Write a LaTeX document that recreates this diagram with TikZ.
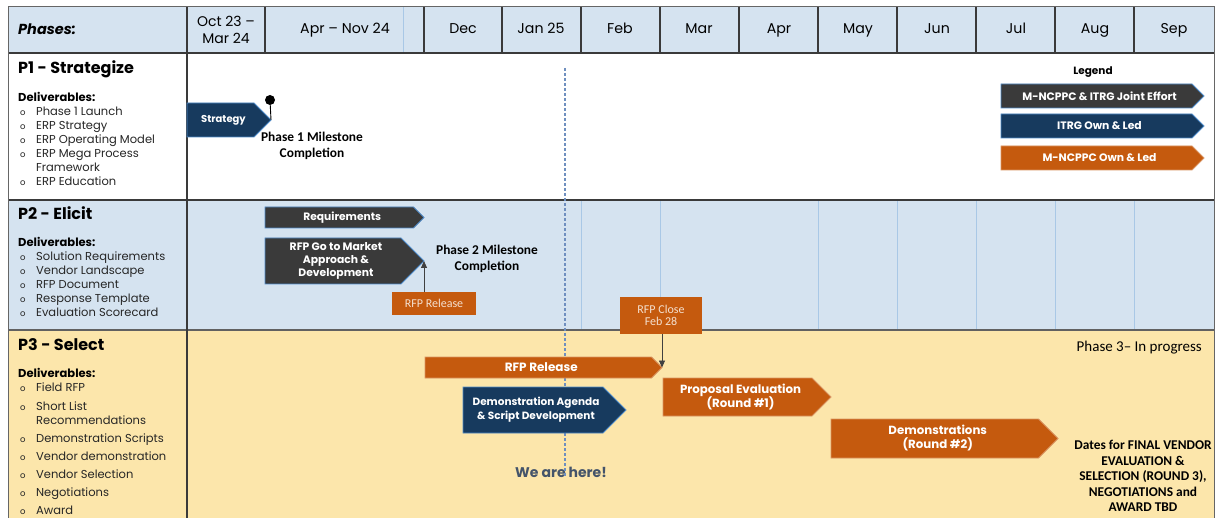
\documentclass[tikz,border=0pt]{standalone}
\usepackage{fontspec}
\setmainfont{Poppins}
\newfontfamily\calfont{Carlito}
\usetikzlibrary{arrows.meta}

\definecolor{navy}{HTML}{173A5E}
\definecolor{dgray}{HTML}{3A3A3A}
\definecolor{orng}{HTML}{C55A0E}
\definecolor{lblue}{HTML}{D5E3F0}
\definecolor{pyel}{HTML}{FCE6AB}
\definecolor{gridc}{HTML}{3A3A3A}
\definecolor{faintc}{HTML}{A9C8E6}
\definecolor{slate}{HTML}{44546A}
\definecolor{dashc}{HTML}{6F8FBF}
\definecolor{barblue}{HTML}{4F8BC9}
\definecolor{txtc}{HTML}{262626}
\definecolor{boxtxt}{HTML}{F4E0D0}

\newcommand{\ganttbar}[8]{%
  \pgfmathsetmacro\gbMid{(#3+#5)/2}%
  \pgfmathsetmacro\gbHalf{(#5-#3)/2}%
  \pgfmathsetmacro\gbBody{#4-\gbHalf}%
  \pgfmathsetmacro\gbCx{(#2+\gbBody)/2+3}%
  \draw[#6] (#2,#3) -- (\gbBody,#3) -- (#4,\gbMid) -- (\gbBody,#5) -- (#2,#5) -- cycle;
  \node[bartext,#7] (#1) at (\gbCx,\gbMid) {#8};
  \coordinate (#1-tip) at (#4,\gbMid);
}
\newcommand{\bul}{{\fontsize{8.5}{14}\selectfont o}}

\begin{document}
\begin{tikzpicture}[x=1pt,y=-1pt,
  bartext/.style={text=white, align=center, inner sep=0pt},
  navybar/.style={fill=navy, draw=barblue, line width=0.8pt},
  graybar/.style={fill=dgray, draw=barblue, line width=0.8pt},
  orangebar/.style={fill=orng, draw=orng!65!white, line width=0.8pt},
  gridline/.style={draw=gridc, line width=1.1pt},
  faintline/.style={draw=faintc, line width=0.6pt},
  hdr/.style={font=\fontsize{14.2}{17}\selectfont, align=center, inner sep=0pt, text=black},
  ptitle/.style={font=\fontsize{16}{18}\selectfont\bfseries, anchor=base west, inner sep=0pt, text=black},
  delhead/.style={font=\fontsize{11.5}{13}\selectfont\bfseries, anchor=base west, inner sep=0pt, text=black},
  dellist/.style={font=\fontsize{11.5}{14}\selectfont, anchor=base west, inner sep=0pt, text=txtc},
  milestone/.style={font=\calfont\fontsize{13.4}{16}\selectfont\bfseries, align=center, inner sep=0pt, text=black},
  smallbox/.style={fill=orng, text=boxtxt, font=\calfont\fontsize{12}{12.5}\selectfont, align=center, inner sep=0pt},
  connector/.style={draw=black!75, line width=0.8pt, -{Triangle[length=7pt,width=6pt]}},
]
\useasboundingbox (0,0) rectangle (1225,518);
\fill[white] (0,0) rectangle (1225,518);

% row backgrounds
\fill[lblue] (8,7) rectangle (1214,53);
\fill[lblue] (8,200) rectangle (1214,330);
\fill[pyel] (8,330) rectangle (1214,518);

% faint lines
\foreach \x in {581,660,818,897,976,1055,1134} \draw[faintline] (\x,200) -- (\x,330);
\draw[faintline] (403,7) -- (403,53);

% grid
\foreach \x in {265,424,502,581,660,739,818,897,976,1055,1134} \draw[gridline] (\x,7) -- (\x,53);
\draw[gridline] (8,53) -- (1214,53);
\draw[gridline] (8,200) -- (1214,200);
\draw[gridline, draw=gridc!80] (8,330) -- (1214,330);
\draw[gridline] (187,7) -- (187,518);
\draw[draw=black!60, line width=1pt] (8,518) -- (8,7) -- (1214,7) -- (1214,518);

% header
\node[anchor=base west, inner sep=0pt, font=\fontsize{14.5}{17}\selectfont\bfseries\itshape] (phases) at (18,35) {Phases:};
\node[hdr, font=\fontsize{14}{17}\selectfont] (hOct) at (226,29.5) {Oct 23 –\\Mar 24};
\node[hdr, anchor=base] (hAprNov) at (345,34) {Apr – Nov 24};
\node[hdr, anchor=base] (hDec) at (463,34) {Dec};
\node[hdr, anchor=base] (hJan) at (541,34) {Jan 25};
\node[hdr, anchor=base] (hFeb) at (620,34) {Feb};
\node[hdr, anchor=base] (hMar) at (699,34) {Mar};
\node[hdr, anchor=base] (hApr) at (779,34) {Apr};
\node[hdr, anchor=base] (hMay) at (858,34) {May};
\node[hdr, anchor=base] (hJun) at (937,34) {Jun};
\node[hdr, anchor=base] (hJul) at (1016,34) {Jul};
\node[hdr, anchor=base] (hAug) at (1095,34) {Aug};
\node[hdr, anchor=base] (hSep) at (1174,34) {Sep};

% left column: P1
\node[ptitle] (p1t) at (18,74) {P1 - Strategize};
\node[delhead] (p1d) at (18,102) {Deliverables:};
\node[dellist] (p1l) at (20,116) {\begin{tabular}[t]{@{}l@{\hspace{10.5pt}}l@{}}
\bul & Phase 1 Launch\\
\bul & ERP Strategy\\
\bul & ERP Operating Model\\
\bul & ERP Mega Process\\
 & Framework\\
\bul & ERP Education
\end{tabular}};

% P2
\node[ptitle] (p2t) at (18,220) {P2 - Elicit};
\node[delhead] (p2d) at (18,247) {Deliverables:};
\node[dellist] (p2l) at (20,261) {\begin{tabular}[t]{@{}l@{\hspace{10.5pt}}l@{}}
\bul & Solution Requirements\\
\bul & Vendor Landscape\\
\bul & RFP Document\\
\bul & Response Template\\
\bul & Evaluation Scorecard
\end{tabular}};

% P3
\node[ptitle] (p3t) at (18,350) {P3 - Select};
\node[delhead] (p3d) at (18,377) {Deliverables:};
\node[dellist] (p3l) at (20,391) {\begin{tabular}[t]{@{}l@{\hspace{10.5pt}}l@{}}
\bul & Field RFP\\[5pt]
\bul & Short List\\
 & Recommendations\\[4pt]
\bul & Demonstration Scripts\\[4pt]
\bul & Vendor demonstration\\[4pt]
\bul & Vendor Selection\\[4pt]
\bul & Negotiations\\[4pt]
\bul & Award
\end{tabular}};

% "we are here" dashed line
\node[font=\fontsize{14}{16}\selectfont\bfseries, text=slate, inner sep=0pt] (here) at (561,472) {We are here!};
\coordinate (heretop) at (565,68);
\draw[dashc, line width=1.2pt, dash pattern=on 3pt off 2pt] (heretop) -- ([yshift=-9pt]heretop |- here.north);

% P1 bars
\ganttbar{strat}{187}{103}{271}{137}{navybar}{font=\fontsize{10}{12}\selectfont\bfseries}{Strategy}
\node[circle, fill=black, inner sep=0pt, minimum size=10pt] (pin) at (270,100) {};
\draw[black, line width=0.9pt] (pin) -- (strat-tip);
\node[milestone] (ms1) at (312,146) {Phase 1 Milestone\\Completion};

% legend
\node[font=\fontsize{10.5}{12}\selectfont\bfseries, inner sep=0pt] (legend) at (1093,72) {Legend};
\ganttbar{lg1}{1001}{84}{1204}{108}{graybar}{font=\fontsize{10.8}{12}\selectfont\bfseries}{M-NCPPC \& ITRG Joint Effort}
\ganttbar{lg2}{1001}{114}{1204}{138}{navybar}{font=\fontsize{10.8}{12}\selectfont\bfseries}{ITRG Own \& Led}
\ganttbar{lg3}{1001}{146}{1204}{170}{orangebar}{font=\fontsize{10.8}{12}\selectfont\bfseries}{M-NCPPC Own \& Led}

% P2 bars
\ganttbar{req}{265}{207}{424}{228}{graybar}{font=\fontsize{10.7}{12}\selectfont\bfseries}{Requirements}
\ganttbar{gtm}{265}{238}{424}{284}{graybar}{font=\fontsize{10.8}{13}\selectfont\bfseries}{RFP Go to Market\\Approach \&\\Development}
\node[milestone] (ms2) at (487,259) {Phase 2 Milestone\\Completion};
\node[smallbox, minimum width=84pt, minimum height=23pt] (rfprel) at (434,303.5) {RFP Release};
\draw[connector] (rfprel.north -| gtm-tip) -- (gtm-tip);

% P3 bars
\ganttbar{rfp3}{425}{357}{662}{378}{orangebar}{font=\fontsize{12}{14}\selectfont\bfseries}{RFP Release}
\ganttbar{demoag}{463}{387}{626}{433}{navybar}{font=\fontsize{10.5}{14}\selectfont\bfseries}{Demonstration Agenda\\\& Script Development}
\ganttbar{prop}{663}{378}{831}{416}{orangebar}{font=\fontsize{11.8}{14}\selectfont\bfseries}{Proposal Evaluation\\(Round \#1)}
\ganttbar{demo}{831}{419}{1058}{458}{orangebar}{font=\fontsize{11.8}{14}\selectfont\bfseries}{Demonstrations\\(Round \#2)}

\node[smallbox, minimum width=82pt, minimum height=37pt] (rfpclose) at (661,315.5) {RFP Close\\Feb 28};
\draw[connector] (rfpclose.south -| rfp3-tip) -- (rfp3-tip);

\node[font=\calfont\fontsize{15}{17}\selectfont, inner sep=0pt, anchor=east] (p3prog) at (1202,348) {Phase 3– In progress};
\node[font=\calfont\fontsize{13.4}{15.5}\selectfont\bfseries, align=center, inner sep=0pt] (tbd) at (1143,476) {Dates for FINAL VENDOR\\EVALUATION \&\\SELECTION (ROUND 3),\\NEGOTIATIONS and\\AWARD TBD};
\end{tikzpicture}
\end{document}
